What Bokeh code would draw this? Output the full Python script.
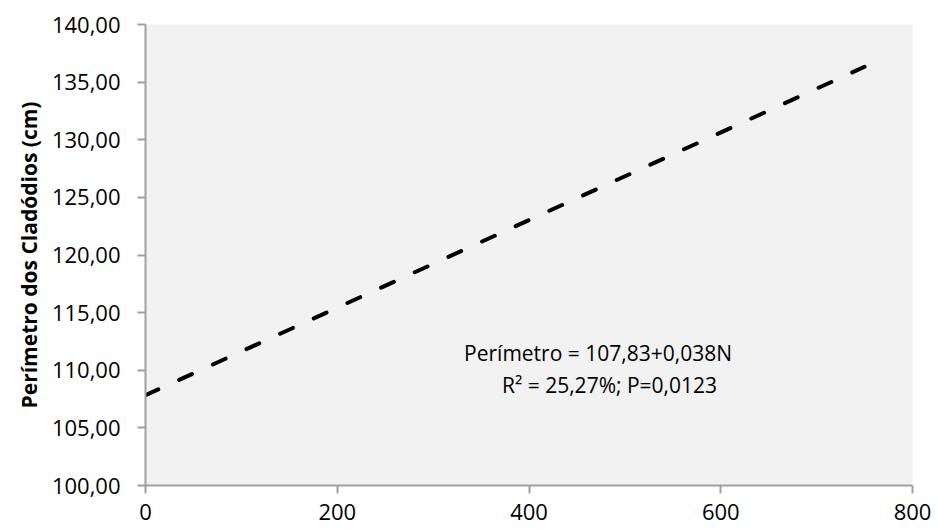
from bokeh.plotting import figure
from bokeh.models import Range1d, FixedTicker, Label
from bokeh.embed import file_html
from bokeh.resources import INLINE

# Data (regression line Perímetro = 107.83 + 0.038 N)
line_x = [0, 750]
intercept = 107.83
slope = 0.038
line_y = [intercept + slope * v for v in line_x]

x_ticks = [0, 200, 400, 600, 800]
y_ticks = [100, 105, 110, 115, 120, 125, 130, 135, 140]
y_tick_labels = ["100,00", "105,00", "110,00", "115,00", "120,00", "125,00", "130,00", "135,00", "140,00"]
eq_lines = ["Perímetro = 107,83+0,038N", "R² = 25,27%; P=0,0123"]
y_label = "Perímetro dos Cladódios (cm)"

FONT = "Open Sans"

p = figure(width=938, height=531, output_backend="svg", toolbar_location=None,
           x_range=Range1d(0, 800), y_range=Range1d(100, 140),
           min_border_left=145, min_border_right=26, min_border_top=24, min_border_bottom=46)
p.background_fill_color = "#F2F2F2"
p.border_fill_color = "white"
p.outline_line_color = None
p.grid.visible = False

p.line(line_x, line_y, line_color="black", line_width=4, line_dash="14 23", line_cap="round")

p.xaxis.ticker = FixedTicker(ticks=x_ticks)
p.yaxis.ticker = FixedTicker(ticks=y_ticks)
p.yaxis.major_label_overrides = {t: l for t, l in zip(y_ticks, y_tick_labels)}
for ax in (p.xaxis[0], p.yaxis[0]):
    ax.axis_line_color = "#A0A0A0"
    ax.axis_line_width = 2
    ax.major_tick_line_color = "#A0A0A0"
    ax.major_tick_line_width = 2
    ax.major_tick_out = 8
    ax.major_tick_in = 0
    ax.minor_tick_line_color = None
    ax.major_label_text_font = FONT
    ax.major_label_text_font_size = "22px"
    ax.major_label_text_color = "black"
p.xaxis.major_label_standoff = 10
p.yaxis.major_label_standoff = 17
p.yaxis.axis_label = y_label
p.yaxis.axis_label_text_font = FONT
p.yaxis.axis_label_text_font_style = "bold"
p.yaxis.axis_label_text_font_size = "21px"
p.yaxis.axis_label_text_color = "black"
p.yaxis.axis_label_standoff = 6

p.add_layout(Label(x=472, y=111.5, text=eq_lines[0], text_align="center", text_baseline="middle",
                   text_font=FONT, text_font_size="21px", text_color="black"))
p.add_layout(Label(x=484, y=108.7, text=eq_lines[1], text_align="center", text_baseline="middle",
                   text_font=FONT, text_font_size="21px", text_color="black"))

open("out.html", "w").write(file_html(p, INLINE))
